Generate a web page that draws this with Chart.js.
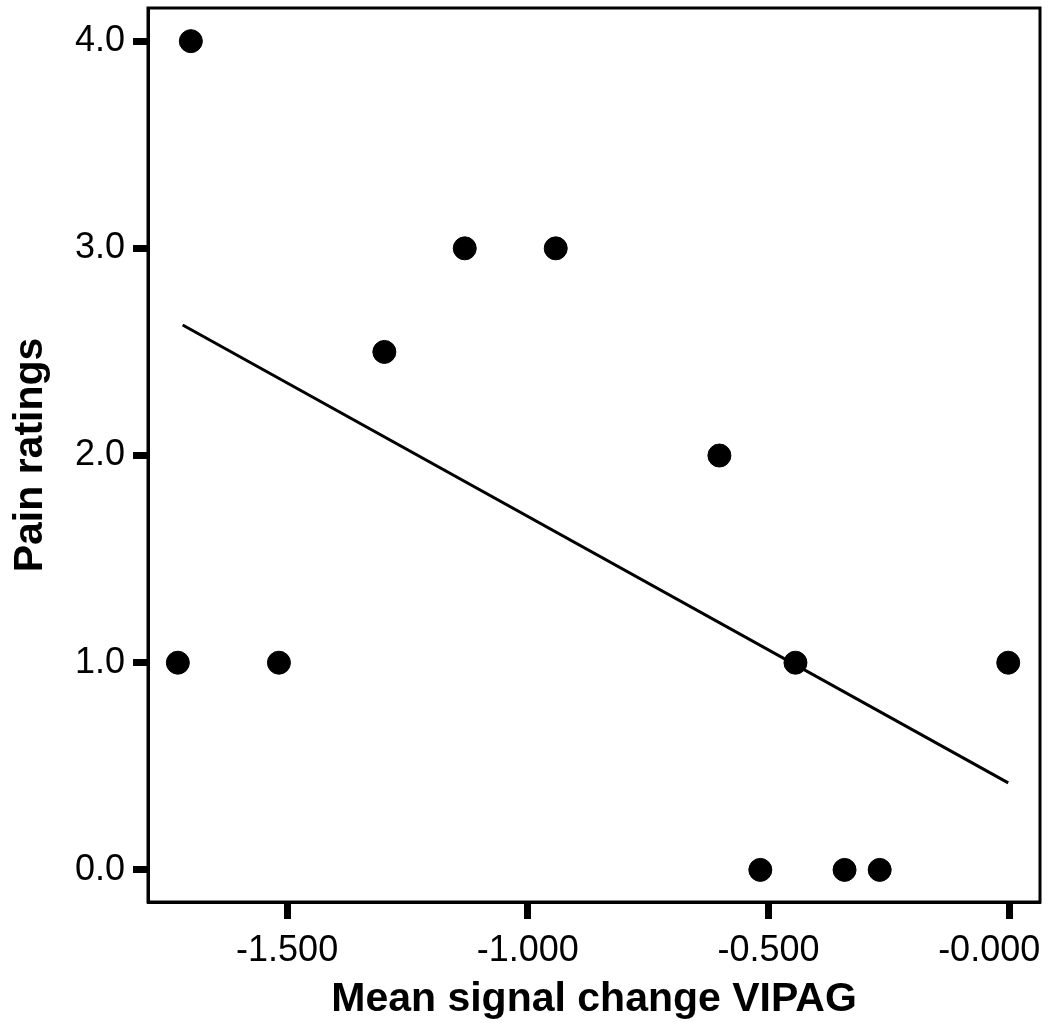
<!DOCTYPE html>
<html>
<head>
<meta charset="utf-8">
<script src="https://cdn.jsdelivr.net/npm/chart.js@4/dist/chart.umd.min.js"></script>
<style>
  html, body { margin: 0; padding: 0; background: #fff; }
  #wrap { width: 1050px; height: 1036px; }
</style>
</head>
<body>
<div id="wrap"><canvas id="scatter"></canvas></div>
<script>
// data
const signalChange = [-1.700, -1.727, -1.517, -1.298, -1.131, -0.942, -0.602, -0.444, -0.002, -0.517, -0.342, -0.269];
const painRatings  = [4.0, 1.0, 1.0, 2.5, 3.0, 3.0, 2.0, 1.0, 1.0, 0.0, 0.0, 0.0];

// fit line end points
const fitX = [-1.717, -0.002];
const fitY = [2.63, 0.42];

const xTicks = [-1.5, -1.0, -0.5, 0.0];
const xTickLabels = ['-1.500', '-1.000', '-0.500', '-0.000'];
const yTicks = [0, 1, 2, 3, 4];
const yTickLabels = ['0.0', '1.0', '2.0', '3.0', '4.0'];

// box round the plot area
const frameBox = {
    id: 'frameBox',
    afterDraw(chart) {
        const a = chart.chartArea;
        const ctx = chart.ctx;
        ctx.save();
        ctx.strokeStyle = '#000';
        ctx.lineWidth = 3;
        ctx.strokeRect(a.left, a.top, a.right - a.left, a.bottom - a.top);
        ctx.restore();
    }
};

const tickFont = { family: "'Liberation Sans', Arial, sans-serif", size: 36 };
const titleFont = { family: "'Liberation Sans', Arial, sans-serif", size: 41, weight: 'bold' };

new Chart(document.getElementById('scatter').getContext('2d'), {
    type: 'scatter',
    data: {
        datasets: [
            {
                label: 'Pain ratings',
                data: signalChange.map((x, i) => ({ x: x, y: painRatings[i] })),
                backgroundColor: '#000',
                borderColor: '#000',
                pointRadius: 11.5,
                pointHoverRadius: 11.5
            },
            {
                label: 'Fit',
                type: 'line',
                data: fitX.map((x, i) => ({ x: x, y: fitY[i] })),
                borderColor: '#000',
                borderWidth: 3,
                pointRadius: 0,
                fill: false
            }
        ]
    },
    options: {
        responsive: true,
        maintainAspectRatio: false,
        animation: false,
        layout: { autoPadding: false, padding: { top: 8, right: 10, left: 0, bottom: 0 } },
        plugins: { legend: { display: false }, tooltip: { enabled: false } },
        scales: {
            x: {
                type: 'linear',
                min: -1.789,
                max: 0.064,
                afterBuildTicks: s => { s.ticks = xTicks.map(v => ({ value: v })); },
                afterFit: s => { s.height = 134; s.paddingLeft = 0; s.paddingRight = 0; },
                ticks: {
                    color: '#000',
                    font: tickFont,
                    padding: 10,
                    maxRotation: 0,
                    // last label sits a bit left of its tick, as in the original
                    callback: (v) => {
                        const i = xTicks.indexOf(v);
                        return i === xTicks.length - 1 ? xTickLabels[i] + '\u2007\u2007' : xTickLabels[i];
                    }
                },
                grid: { drawOnChartArea: false, drawTicks: true, tickLength: 17, tickWidth: 7, tickColor: '#000' },
                border: { display: true, color: '#000', width: 3 },
                title: { display: true, text: 'Mean signal change VIPAG', color: '#000', font: titleFont, padding: { top: 0, bottom: 12 } }
            },
            y: {
                type: 'linear',
                min: -0.155,
                max: 4.16,
                afterBuildTicks: s => { s.ticks = yTicks.map(v => ({ value: v })); },
                afterFit: s => { s.width = 148; s.paddingTop = 0; s.paddingBottom = 0; },
                ticks: {
                    color: '#000',
                    font: tickFont,
                    padding: 8,
                    callback: (v) => yTickLabels[yTicks.indexOf(v)]
                },
                grid: { drawOnChartArea: false, drawTicks: true, tickLength: 15, tickWidth: 7, tickColor: '#000' },
                border: { display: true, color: '#000', width: 3 },
                title: { display: true, text: 'Pain ratings', color: '#000', font: titleFont, padding: { top: 6, bottom: 0 } }
            }
        }
    },
    plugins: [frameBox]
});
</script>
</body>
</html>
